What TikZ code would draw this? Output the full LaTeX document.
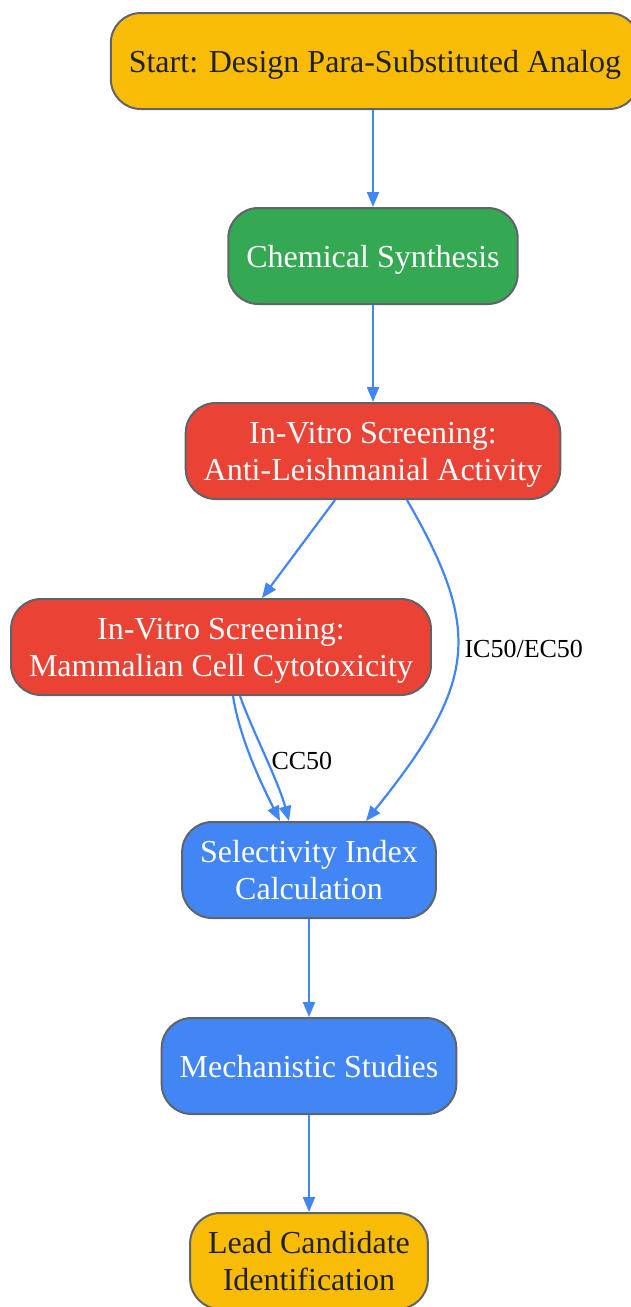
\documentclass[tikz,border=0pt]{standalone}
\usepackage{fontspec}
\setmainfont{Liberation Serif}
\usetikzlibrary{arrows.meta}
\definecolor{gyellow}{HTML}{F9BC06}
\definecolor{ggreen}{HTML}{34A853}
\definecolor{gred}{HTML}{EA4335}
\definecolor{gblue}{HTML}{4285F4}
\definecolor{gborder}{HTML}{60646A}
\definecolor{gtext}{HTML}{202124}
\begin{document}
\begin{tikzpicture}[x=1pt,y=-1pt,
		box/.style={draw=gborder,line width=2pt,rounded corners=30pt,minimum height=96pt,
			inner xsep=18pt,text depth=-7pt,align=center,font=\fontsize{32}{37}\selectfont},
		arr/.style={draw=gblue,line width=2.2pt,-{Triangle[length=15pt,width=12pt]}},
		lbl/.style={font=\fontsize{26}{30}\selectfont,anchor=west}]
				\useasboundingbox (0,0) rectangle (631,1307);
				\node[box,fill=gyellow,text=gtext] (start) at (375,61) {Start: Design Para-Substituted Analog};
				\node[box,fill=ggreen,text=white] (chem) at (373,256) {Chemical Synthesis};
				\node[box,fill=gred,text=white] (anti) at (373,451) {In-Vitro Screening:\\Anti-Leishmanial Activity};
				\node[box,fill=gred,text=white] (mamm) at (221,647) {In-Vitro Screening:\\Mammalian Cell Cytotoxicity};
				\node[box,fill=gblue,text=white] (sel) at (309,870) {Selectivity Index\\Calculation};
				\node[box,fill=gblue,text=white] (mech) at (309,1066) {Mechanistic Studies};
				\node[box,fill=gyellow,text=gtext] (lead) at (309,1261) {Lead Candidate\\Identification};
				\draw[arr] ([xshift=-2pt]start.south) -- (chem);
				\draw[arr] (chem) -- (anti);
				\draw[arr] ([xshift=-38pt]anti.south) -- ([xshift=41pt]mamm.north);
				\draw[arr] ([xshift=34pt]anti.south) .. controls (482,630) and (478,682) .. ([xshift=57pt]sel.north);
				\draw[arr] ([xshift=12pt]mamm.south) .. controls (240,740) and (262,785) .. ([xshift=-29pt]sel.north);
				\draw[arr] ([xshift=19pt]mamm.south) .. controls (252,730) and (278,780) .. ([xshift=-20pt]sel.north);
				\draw[arr] (sel) -- (mech);
				\draw[arr] (mech) -- (lead);
				\node[lbl] (ic) at (461,649) {IC50/EC50};
				\node[lbl] (cc) at (268,761) {CC50};
			\end{tikzpicture}
\end{document}
